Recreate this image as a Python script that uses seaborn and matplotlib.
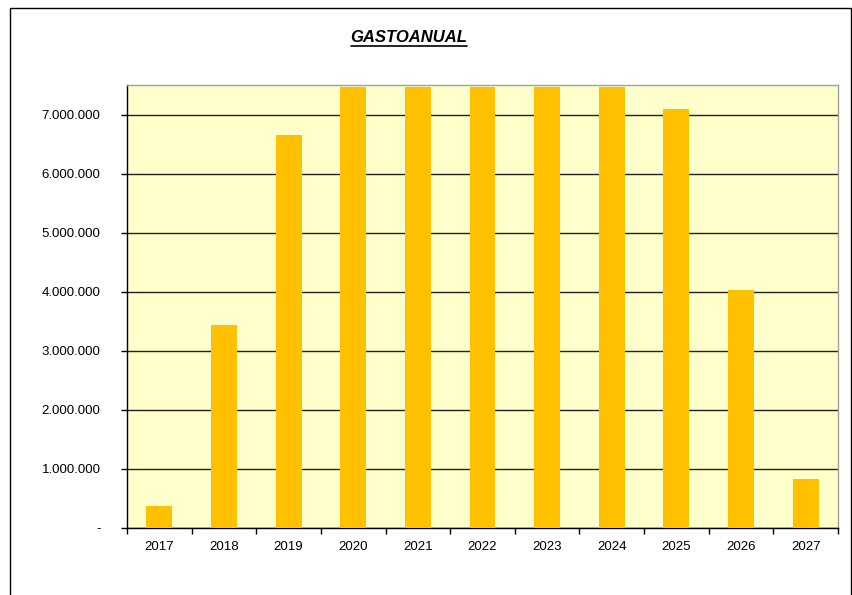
import numpy as np
import pandas as pd
import seaborn as sns
import matplotlib.pyplot as plt
from matplotlib.patches import Rectangle
from matplotlib.lines import Line2D
from matplotlib.ticker import FuncFormatter, FixedLocator

# data
years = ['2017', '2018', '2019', '2020', '2021', '2022', '2023', '2024', '2025', '2026', '2027']
gasto = [370000, 3440000, 6650000, 7460000, 7460000, 7460000, 7460000, 7460000, 7100000, 4030000, 830000]

df = pd.DataFrame({'anio': years, 'gasto': gasto})

sns.set_style('white')
plt.rcParams['font.family'] = ['Liberation Sans', 'DejaVu Sans']
plt.rcParams['text.color'] = 'black'
plt.rcParams['xtick.color'] = 'black'
plt.rcParams['ytick.color'] = 'black'

fig = plt.figure(figsize=(8.53, 5.95), dpi=100)
ax = fig.add_axes([127 / 853, 1 - 528 / 595, (838 - 127) / 853, (528 - 85) / 595])
ax.set_facecolor('#FFFFCC')

sns.barplot(data=df, x='anio', y='gasto', color='#FFC000', saturation=1,
            width=0.4, linewidth=0, ax=ax, zorder=3)

ax.set_ylim(0, 7500000)
ax.set_xlim(-0.5, len(years) - 0.5)
ax.set_yticks(np.arange(0, 7000001, 1000000))


def fmt(v, pos):
    if v == 0:
        return '-'
    return f'{int(v):,}'.replace(',', '.')


ax.yaxis.set_major_formatter(FuncFormatter(fmt))
ax.yaxis.grid(True, color='#222222', linewidth=1, zorder=1)
ax.set_axisbelow(True)
ax.set_xlabel('')
ax.set_ylabel('')

ax.tick_params(axis='y', which='major', left=True, length=4, width=1,
               pad=15, labelsize=9.5)
ax.tick_params(axis='x', which='major', bottom=False, length=0, pad=9, labelsize=9.5)
ax.xaxis.set_minor_locator(FixedLocator(np.arange(-0.5, len(years), 1)))
ax.tick_params(axis='x', which='minor', bottom=True, length=4, width=1)

for s in ['left', 'bottom']:
    ax.spines[s].set_color('black')
    ax.spines[s].set_linewidth(1)
for s in ['top', 'right']:
    ax.spines[s].set_color('#A0A0A0')
    ax.spines[s].set_linewidth(1)

# outer frame of the chart
fig.patches.append(Rectangle((10 / 853, -0.1), (851 - 10) / 853, 1.1 - 8 / 595,
                             transform=fig.transFigure, fill=False,
                             edgecolor='black', linewidth=1))

title = fig.text(409 / 853, 1 - 37 / 595, 'GASTOANUAL', ha='center', va='center',
                 fontsize=12, fontweight='bold', fontstyle='italic')

# underline for the title
fig.canvas.draw()
bb = title.get_window_extent().transformed(fig.transFigure.inverted())
fig.lines.append(Line2D([bb.x0, bb.x1], [bb.y0 - 0.002, bb.y0 - 0.002],
                        transform=fig.transFigure, color='black', linewidth=1.2))

fig.savefig('out.png', dpi=100)
